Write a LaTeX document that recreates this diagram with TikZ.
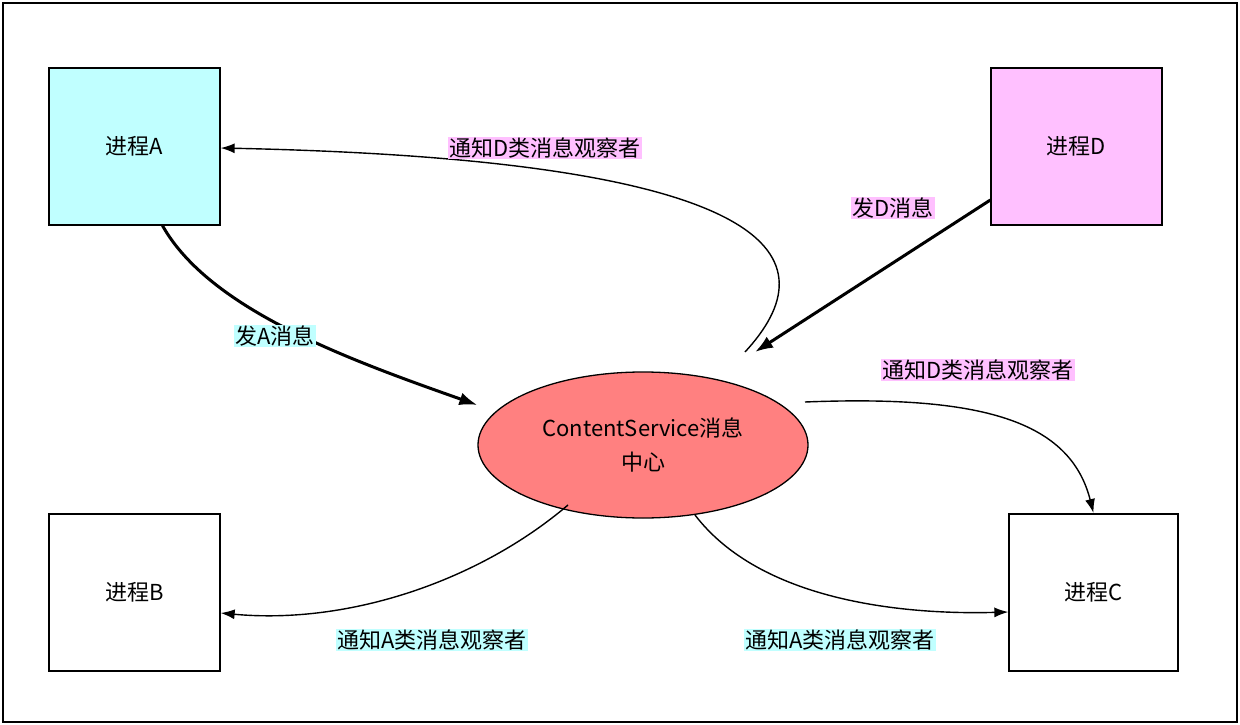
\documentclass[tikz,border=0pt]{standalone}
\usepackage{fontspec}
\setmainfont{Noto Sans CJK SC}
\usetikzlibrary{arrows.meta,shapes.geometric}
\definecolor{cy}{HTML}{C0FFFF}
\definecolor{pk}{HTML}{FFC0FF}
\definecolor{rd}{HTML}{FF8080}
\begin{document}
\begin{tikzpicture}[x=1pt,y=-1pt,
  box/.style={draw,line width=1.3pt,minimum width=171pt,minimum height=157pt,font=\fontsize{22}{26}\selectfont},
  lbl/.style={inner sep=1pt,font=\fontsize{22}{26}\selectfont},
  lightarr/.style={line width=1.4pt,-{Latex[length=14pt,width=10pt]}},
  heavyarr/.style={line width=3pt,-{Latex[length=18pt,width=13pt]}}]
\useasboundingbox (0,0) rectangle (1240,725);
\node[draw,line width=1.3pt,minimum width=1234pt,minimum height=719pt] (frame) at (620,362.5) {};
\node[box,fill=cy] (A) at (134.5,146.5) {进程A};
\node[box,fill=pk] (D) at (1076.5,146.5) {进程D};
\node[box] (B) at (134.5,592.5) {进程B};
\node[box,minimum width=169pt] (C) at (1093.5,592.5) {进程C};
\node[draw,fill=rd,ellipse,line width=1.3pt,minimum width=330pt,minimum height=146pt,align=center,font=\fontsize{22}{34}\selectfont] (E) at (643,445) {ContentService消息\\中心};
\draw[heavyarr] (A.south)++(28,0) coordinate (a1) .. controls (210,310) and (350,360) .. (E.west |- 0,405) coordinate (e1);
\draw[heavyarr] (D.west |- 0,200) coordinate (d1) -- (755,352) coordinate (e2);
\draw[lightarr] (745,352) coordinate (e3) .. controls (830,260) and (790,160) .. (A.east |- 0,148);
\draw[lightarr] (805,402) coordinate (e4) .. controls (980,395) and (1070,420) .. (C.north |- 0,513);
\draw[lightarr] (568,505) coordinate (e5) .. controls (480,580) and (350,625) .. (A.east |- 0,613);
\draw[lightarr] (695,515) coordinate (e6) .. controls (760,600) and (900,615) .. (C.west |- 0,612);
\node[lbl,fill=cy] (l1) at (275,336) {发A消息};
\node[lbl,fill=pk] (l2) at (893,208) {发D消息};
\node[lbl,fill=pk] (l3) at (545,148) {通知D类消息观察者};
\node[lbl,fill=pk] (l4) at (978,370) {通知D类消息观察者};
\node[lbl,fill=cy] (l5) at (432,640) {通知A类消息观察者};
\node[lbl,fill=cy] (l6) at (840,640) {通知A类消息观察者};
\end{tikzpicture}
\end{document}
